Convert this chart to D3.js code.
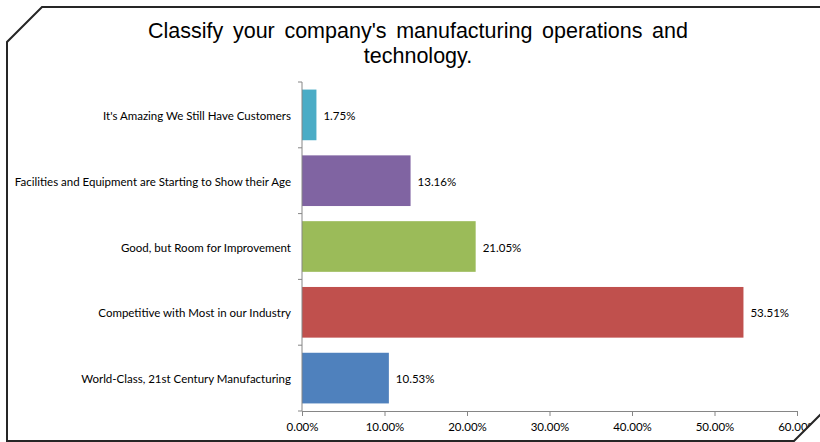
<!DOCTYPE html>
<html>
<head>
<meta charset="utf-8">
<script src="https://cdn.jsdelivr.net/npm/d3@7/dist/d3.min.js"></script>
<style>
  html, body { margin: 0; padding: 0; background: #fff; }
  svg { display: block; }
</style>
</head>
<body>
<svg id="chart" width="820" height="442"></svg>
<script>
// Survey answers, listed top to bottom
const categories = [
  "It's Amazing We Still Have Customers",
  "Facilities and Equipment are Starting to Show their Age",
  "Good, but Room for Improvement",
  "Competitive with Most in our Industry",
  "World-Class, 21st Century Manufacturing"
];
const shares = [1.75, 13.16, 21.05, 53.51, 10.53];
const barColors = ["#4BACC6", "#8064A2", "#9BBB59", "#C0504D", "#4F81BD"];
const xTicks = [0, 10, 20, 30, 40, 50, 60];
const titleLines = [
  "Classify your company's manufacturing operations and",
  "technology."
];

const svg = d3.select("#chart");
const plot = { left: 302, right: 797, top: 82, bottom: 411 };
const labelFont = "Lato, 'Open Sans', sans-serif";
const labelSize = 11.5;
const framePath = "M42,7 L840,7 L840,395 L794,441 L7,441 L7,42 Z";

// Everything inside the frame is clipped to its chamfered outline
svg.append("defs").append("clipPath").attr("id", "frame-clip")
  .append("path").attr("d", framePath);
const content = svg.append("g").attr("clip-path", "url(#frame-clip)");

// Title, spread word-wise across the first line's width
titleLines.forEach((line, i) => {
  const t = content.append("text")
    .attr("x", 418)
    .attr("y", 38 + i * 25)
    .attr("text-anchor", "middle")
    .attr("font-family", "'Liberation Sans', Arial, sans-serif")
    .attr("font-size", 21.5)
    .attr("fill", "#000")
    .text(line);
  if (i === 0) {
    const spaces = line.split(" ").length - 1;
    const w = t.node().getComputedTextLength();
    const target = 540;
    if (w < target) t.attr("word-spacing", (target - w) / spaces);
  }
});

const x = d3.scaleLinear().domain([0, 60]).range([plot.left, plot.right]);
const y = d3.scaleBand().domain(categories).range([plot.top, plot.bottom])
  .paddingInner(0.23).paddingOuter(0.115);

// Bars
content.append("g").selectAll("rect")
  .data(categories)
  .join("rect")
  .attr("x", x(0))
  .attr("y", d => y(d))
  .attr("width", (d, i) => x(shares[i]) - x(0))
  .attr("height", y.bandwidth())
  .attr("fill", (d, i) => barColors[i]);

// Value labels
content.append("g").selectAll("text")
  .data(categories)
  .join("text")
  .attr("x", (d, i) => x(shares[i]) + 7)
  .attr("y", d => y(d) + y.bandwidth() / 2 + 1)
  .attr("dy", "0.35em")
  .attr("font-family", labelFont)
  .attr("font-size", labelSize)
  .attr("fill", "#000")
  .text((d, i) => shares[i].toFixed(2) + "%");

// X axis
const xAxis = content.append("g")
  .attr("transform", `translate(0,${plot.bottom})`)
  .call(d3.axisBottom(x).tickValues(xTicks).tickSize(5).tickSizeOuter(0)
    .tickFormat(d => d.toFixed(2) + "%"));
xAxis.select(".domain").attr("stroke", "#868686");
xAxis.selectAll(".tick line").attr("stroke", "#868686");
xAxis.selectAll(".tick text")
  .attr("y", 12)
  .attr("font-family", labelFont)
  .attr("font-size", labelSize)
  .attr("fill", "#000");

// Y axis: ticks at band boundaries, labels centered in bands
const yAxisG = content.append("g");
yAxisG.append("line")
  .attr("x1", plot.left).attr("x2", plot.left)
  .attr("y1", plot.top).attr("y2", plot.bottom)
  .attr("stroke", "#868686");
const bounds = d3.range(categories.length + 1)
  .map(i => plot.top + i * (plot.bottom - plot.top) / categories.length);
yAxisG.selectAll("line.tk")
  .data(bounds)
  .join("line")
  .attr("class", "tk")
  .attr("x1", plot.left - 4).attr("x2", plot.left)
  .attr("y1", d => d).attr("y2", d => d)
  .attr("stroke", "#868686");
yAxisG.selectAll("text")
  .data(categories)
  .join("text")
  .attr("x", plot.left - 11)
  .attr("y", d => y(d) + y.bandwidth() / 2 + 1)
  .attr("dy", "0.35em")
  .attr("text-anchor", "end")
  .attr("font-family", labelFont)
  .attr("font-size", labelSize)
  .attr("fill", "#000")
  .text(d => d);

// Chart frame with chamfered corners
svg.append("path")
  .attr("d", framePath)
  .attr("fill", "none")
  .attr("stroke", "#262626")
  .attr("stroke-width", 2);
</script>
</body>
</html>
